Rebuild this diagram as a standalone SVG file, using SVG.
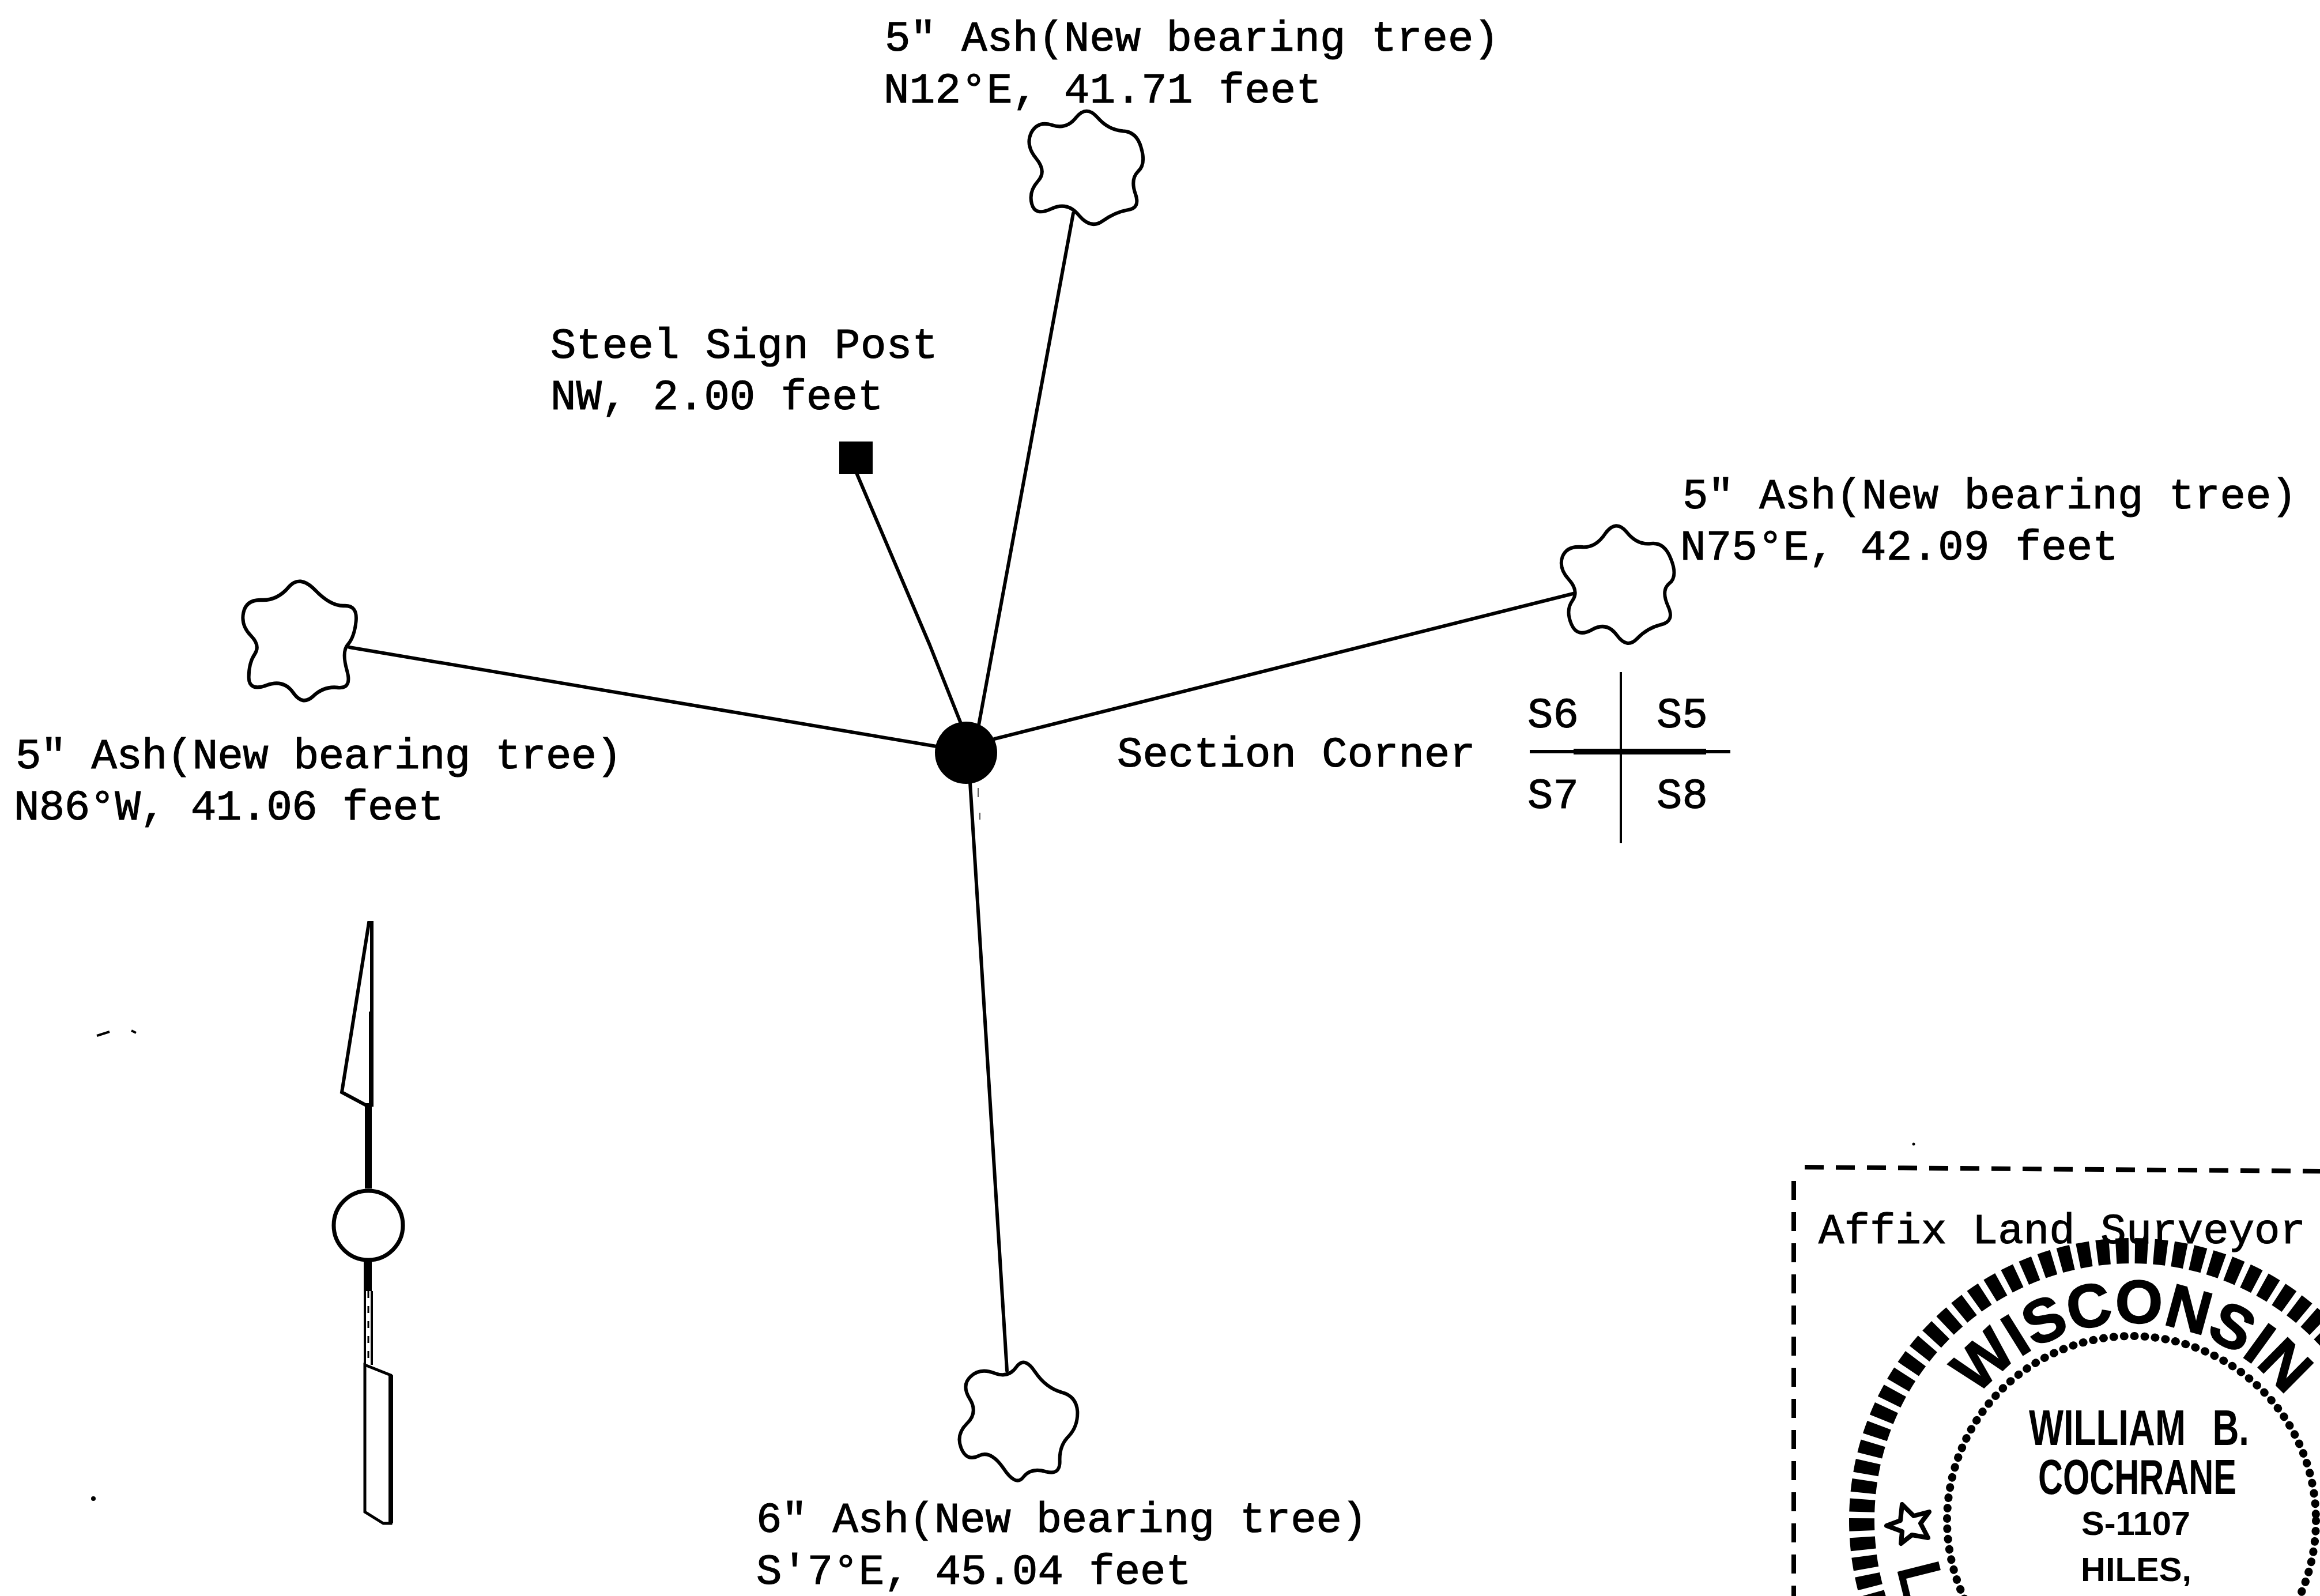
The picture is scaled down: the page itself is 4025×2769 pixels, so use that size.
<svg xmlns="http://www.w3.org/2000/svg" width="4025" height="2769" viewBox="0 0 4025 2769">
<style>
.t{font-family:"Liberation Mono","DejaVu Sans Mono",monospace;font-size:74px;fill:#000;stroke:#000;stroke-width:1.2px}
.s{font-family:"Liberation Sans",Arial,sans-serif;font-weight:700;fill:#000}
.tree{fill:#fff;stroke:#000;stroke-width:6.4;stroke-linejoin:round}
.c{fill:none;stroke:#000;stroke-width:6;stroke-linecap:round;stroke-linejoin:round}
.a{fill:#fff;stroke:#000;stroke-linejoin:miter}
.d{fill:none;stroke:#000;stroke-width:8;stroke-dasharray:33 21}
</style>
<defs><path id="arc" d="M3355 2638A343 343 0 0 1 4041 2638"/></defs>
<rect width="4025" height="2769" fill="#fff"/>
<g id="connectors">
<path class="c" d="M606 1123L1625 1295"/>
<path class="c" d="M1487 823L1613 1119L1667 1255"/>
<path class="c" d="M1862 370L1698 1258"/>
<path class="c" d="M1725 1282L2737 1028"/>
<path class="c" d="M1683 1358L1747 2378"/>
</g>
<g id="tree-north">
<path class="tree" transform="translate(1885 291) scale(.94 .95) translate(-1885 -291)" d="M1905 199Q1925 222 1952 224Q1978 225 1986 255Q1995 285 1980 298Q1966 312 1975 338Q1985 365 1961 368Q1938 372 1915 388Q1893 404 1871 378Q1850 352 1820 366Q1790 380 1784 357Q1778 335 1795 316Q1812 298 1792 274Q1772 250 1783 227Q1795 205 1821 213Q1848 222 1866 199Q1885 176 1905 199Z"/>
<text class="t" x="1535" y="88">5" Ash(New bearing tree)</text>
<text class="t" x="1533" y="178" textLength="760">N12°E, 41.71 feet</text>
</g>
<g id="tree-east">
<path class="tree" transform="translate(2808 1012) scale(.92 .97) translate(-2808 -1012)" d="M2823 920Q2843 944 2869 941Q2895 938 2907 969Q2920 1000 2904 1012Q2888 1024 2901 1052Q2915 1080 2888 1086Q2862 1092 2843 1111Q2824 1130 2805 1105Q2786 1080 2758 1095Q2730 1110 2719 1085Q2708 1060 2721 1043Q2734 1026 2714 1005Q2695 985 2702 965Q2710 945 2737 947Q2764 950 2783 923Q2803 897 2823 920Z"/>
<text class="t" x="2919" y="882">5" Ash(New bearing tree)</text>
<text class="t" x="2915" y="971" textLength="760">N75°E, 42.09 feet</text>
</g>
<g id="tree-west">
<path class="tree" transform="translate(520 1109) scale(.93 1) translate(-520 -1109)" d="M549 1024Q578 1052 603 1051Q628 1050 625 1078Q622 1105 610 1118Q598 1130 608 1163Q618 1195 592 1193Q565 1190 545 1208Q525 1225 508 1202Q490 1178 458 1189Q425 1200 425 1175Q425 1150 436 1135Q447 1120 429 1103Q410 1085 415 1063Q420 1040 449 1041Q478 1042 499 1019Q520 996 549 1024Z"/>
<text class="t" x="27" y="1333" textLength="1052">5" Ash(New bearing tree)</text>
<text class="t" x="24" y="1422" textLength="746">N86°W, 41.06 feet</text>
</g>
<g id="tree-south">
<path class="tree" transform="translate(1767 2463) scale(.93 .95) translate(-1767 -2463)" d="M1798 2376Q1818 2405 1847 2413Q1875 2420 1877 2448Q1878 2475 1861 2493Q1843 2510 1844 2538Q1845 2565 1818 2558Q1790 2550 1776 2568Q1762 2586 1739 2552Q1715 2518 1693 2529Q1670 2540 1660 2515Q1650 2490 1671 2470Q1692 2450 1676 2425Q1660 2400 1678 2384Q1695 2368 1722 2378Q1748 2388 1763 2367Q1778 2346 1798 2376Z"/>
<text class="t" x="1312" y="2658" textLength="1060">6" Ash(New bearing tree)</text>
<text class="t" x="1312" y="2748">S'7°E, 45.04 feet</text>
</g>
<g id="sign-post">
<rect x="1456" y="766" width="58" height="56"/>
<text class="t" x="955" y="621" textLength="672">Steel Sign Post</text>
<text class="t" x="955" y="710">NW, 2.00 feet</text>
</g>
<g id="section-corner">
<ellipse cx="1676" cy="1306" rx="54" ry="54"/>
<text class="t" x="1938" y="1330">Section Corner</text>
</g>
<g id="section-key">
<path d="M2812 1166V1463" stroke="#000" stroke-width="4" fill="none"/>
<path d="M2654 1304H3002" stroke="#000" stroke-width="6" fill="none"/>
<path d="M2730 1304H2960" stroke="#000" stroke-width="10" fill="none"/>
<text class="t" x="2650" y="1262">S6</text>
<text class="t" x="2874" y="1262">S5</text>
<text class="t" x="2650" y="1402">S7</text>
<text class="t" x="2874" y="1402">S8</text>
</g>
<g id="north-arrow">
<path class="a" stroke-width="6" d="M640 1601L645 1601V1917H634L593 1895Z"/>
<rect x="640" y="1755" width="6" height="165"/>
<rect x="633" y="1917" width="12" height="145"/>
<circle cx="639" cy="2126" r="60" fill="#fff" stroke="#000" stroke-width="7"/>
<rect x="631" y="2188" width="14" height="52"/>
<path d="M633 2240V2623M645 2240V2368" stroke="#000" stroke-width="4" fill="none"/>
<path d="M639 2240V2364" stroke="#000" stroke-width="3" stroke-dasharray="12 14" fill="none"/>
<path class="a" stroke-width="5" d="M633 2368L678 2386V2643H665L633 2623Z"/>
<path d="M678 2386V2643" stroke="#000" stroke-width="8"/>
</g>
<g id="surveyor-seal">
<path class="d" d="M3131 2025L4025 2032"/>
<path class="d" d="M3112 2049V2769"/>
<text class="t" x="3155" y="2157" textLength="845">Affix Land Surveyor</text>
<circle cx="3698" cy="2638" r="468" fill="none" stroke="#000" stroke-width="44" stroke-dasharray="22 11"/>
<circle cx="3698" cy="2638" r="320" fill="none" stroke="#000" stroke-width="14" stroke-linecap="round" stroke-dasharray="1 17"/>
<text class="s" font-size="106" stroke="#000" stroke-width="2"><textPath href="#arc" startOffset="50%" text-anchor="middle">WISCONSIN</textPath></text>
<text class="s" x="3520" y="2507" font-size="88" word-spacing="40" textLength="382" lengthAdjust="spacingAndGlyphs">WILLIAM B.</text>
<text class="s" x="3536" y="2592" font-size="86" textLength="344" lengthAdjust="spacingAndGlyphs">COCHRANE</text>
<text class="s" x="3611" y="2663" font-size="57" textLength="189" lengthAdjust="spacingAndGlyphs">S-1107</text>
<text class="s" x="3610" y="2743" font-size="57" textLength="192" lengthAdjust="spacingAndGlyphs">HILES,</text>
<path d="M3300 2610L3320 2630L3347 2623L3332 2643L3345 2668L3317 2663L3298 2678L3300 2657L3273 2647L3297 2638Z" fill="#fff" stroke="#000" stroke-width="8" stroke-linejoin="round"/>
<text class="s" font-size="107" transform="translate(3290 2720) rotate(76)">L</text>
</g>
<g id="specks">
<path d="M168 1797L190 1790M228 1788L236 1792" stroke="#000" stroke-width="4" fill="none"/>
<circle cx="162" cy="2600" r="4"/>
<circle cx="3320" cy="1985" r="2.5"/>
<path d="M1697 1367V1383M1700 1410V1422" stroke="#555" stroke-width="2" fill="none"/>
</g>
</svg>
